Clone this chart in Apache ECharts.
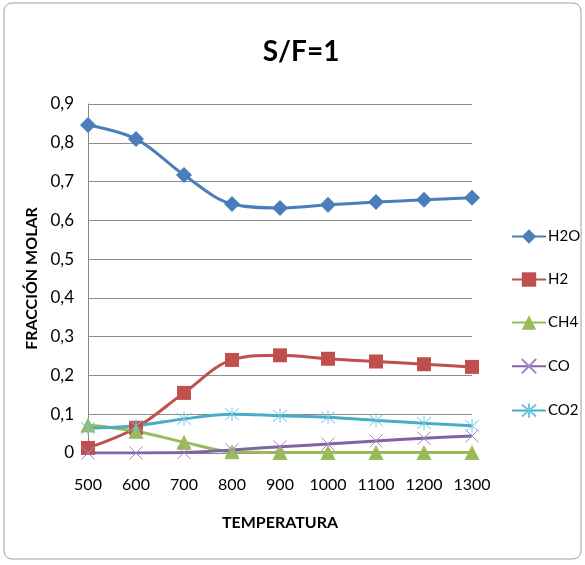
<!DOCTYPE html>
<html><head><meta charset="utf-8">
<script src="https://cdn.jsdelivr.net/npm/echarts@6/dist/echarts.min.js"></script>
<style>html,body{margin:0;padding:0;background:#fff}#c{width:585px;height:565px}</style>
</head><body><div id="c"></div>
<script>
const categories = ['500','600','700','800','900','1000','1100','1200','1300'];
const h2o = [0.846, 0.810, 0.717, 0.642, 0.632, 0.640, 0.647, 0.653, 0.658];
const h2  = [0.013, 0.065, 0.155, 0.240, 0.252, 0.243, 0.236, 0.229, 0.222];
const ch4 = [0.072, 0.056, 0.028, 0.003, 0.001, 0.001, 0.001, 0.001, 0.001];
const co  = [0.000, 0.000, 0.001, 0.008, 0.016, 0.023, 0.031, 0.038, 0.044];
const co2 = [0.064, 0.070, 0.088, 0.100, 0.096, 0.092, 0.084, 0.077, 0.070];
const yTicks = {min: 0, max: 0.9, interval: 0.1};

const font = 'Lato,"Liberation Sans",sans-serif';
const xPath = 'path://M0 0L10 10M10 0L0 10';
const starPath = 'path://M0 0L10 10M10 0L0 10M5 -1L5 11';

function ser(name, data, color, symbol, size, extra) {
  return Object.assign({
    name, type: 'line', data, smooth: 0.35, symbol, symbolSize: size,
    lineStyle: {color, width: 3},
    itemStyle: {color},
    z: 3
  }, extra || {});
}
const chart = echarts.init(document.getElementById('c'), null, {renderer: 'canvas'});
chart.setOption({
  animation: false,
  backgroundColor: '#fff',
  title: {text: 'S/F=1', left: 296, top: 33, textAlign: 'center',
    textStyle: {fontFamily: font, fontSize: 28, fontWeight: 'bold', color: '#000'}},
  graphic: [{type: 'rect', shape: {x: 4, y: 3, width: 577, height: 556, r: 8},
    style: {fill: 'none', stroke: '#a0a0a0', lineWidth: 1}, silent: true}],
  legend: {orient: 'vertical', left: 511, top: 229, itemGap: 28, itemWidth: 34, itemHeight: 18,
    padding: 0,
    textStyle: {fontFamily: font, fontSize: 15, color: '#000', padding: [0,0,0,-3]},
    data: ['H2O','H2','CH4','CO','CO2']},
  grid: {left: 88, right: 113, top: 104, bottom: 112},
  xAxis: {type: 'category', data: categories, boundaryGap: false,
    name: 'TEMPERATURA', nameLocation: 'middle', nameGap: 62,
    nameTextStyle: {fontFamily: font, fontSize: 16, fontWeight: 'bold', color: '#000'},
    axisLine: {lineStyle: {color: '#888', width: 1}}, axisTick: {show: false},
    axisLabel: {interval: 0, fontFamily: font, fontSize: 16, color: '#000', margin: 24}},
  yAxis: {type: 'value', min: yTicks.min, max: yTicks.max, interval: yTicks.interval,
    name: 'FRACCIÓN MOLAR', nameLocation: 'middle', nameGap: 42, nameRotate: 90,
    nameTextStyle: {fontFamily: font, fontSize: 16, fontWeight: 'bold', color: '#000'},
    axisLine: {show: true, lineStyle: {color: '#888', width: 1}}, axisTick: {show: false},
    splitLine: {lineStyle: {color: '#8c8c8c', width: 1}},
    axisLabel: {fontFamily: font, fontSize: 17, color: '#000', margin: 14,
      formatter: v => (Math.round(v*10)/10).toString().replace('.', ',')}},
  series: [
    ser('H2O', h2o, '#4a7ebb', 'diamond', 16),
    ser('H2', h2, '#c0504d', 'rect', 14),
    ser('CH4', ch4, '#9bbb59', 'triangle', 15),
    ser('CO', co, '#8064a2', xPath, 13,
      {itemStyle: {color: 'rgba(0,0,0,0)', borderColor: '#9d87c4', borderWidth: 1}}),
    ser('CO2', co2, '#4bacc6', starPath, 14,
      {itemStyle: {color: 'rgba(0,0,0,0)', borderColor: '#6cc6e0', borderWidth: 1}})
  ]
});
</script></body></html>
